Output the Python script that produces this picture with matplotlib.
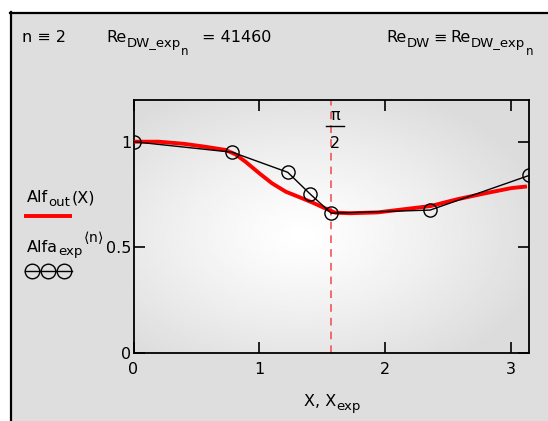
import numpy as np
import matplotlib
matplotlib.use("Agg")
import matplotlib.pyplot as plt
from matplotlib.patches import Rectangle
from matplotlib.lines import Line2D

plt.rcParams['font.family'] = ['DejaVu Sans']
plt.rcParams['mathtext.fontset'] = 'dejavusans'
plt.rcParams['font.size'] = 11.5

# experimental points (Alfa_exp, n = 2)
x_exp = [0.0, 0.785, 1.225, 1.405, 1.571, 2.356, 3.142]
y_exp = [1.0, 0.95, 0.855, 0.751, 0.661, 0.676, 0.84]

# fitted curve Alf_out(X)
x_fit = [0.0, 0.2, 0.4, 0.57, 0.73, 0.81, 0.89, 1.0, 1.1, 1.21, 1.31, 1.42,
         1.53, 1.6, 1.72, 1.94, 2.15, 2.36, 2.57, 2.79, 3.0, 3.11]
y_fit = [1.0, 1.0, 0.99, 0.976, 0.961, 0.94, 0.905, 0.850, 0.803, 0.763, 0.739,
         0.712, 0.682, 0.664, 0.661, 0.665, 0.68, 0.695, 0.727, 0.755, 0.78, 0.787]

x_ticks = [0, 1, 2, 3]
y_ticks = [0, 0.5, 1]
x_mark = np.pi / 2

W, H = 548, 421
fig = plt.figure(figsize=(W / 100, H / 100), dpi=100)
renderer = fig.canvas.get_renderer()

# background / frame in pixel coords
bg = fig.add_axes([0, 0, 1, 1])
bg.set_xlim(0, W)
bg.set_ylim(H, 0)
bg.axis('off')
bg.add_patch(Rectangle((10, 12), W, H, facecolor='#dedede', edgecolor='none'))
bg.plot([10.5, 10.5], [12, H], color='black', lw=1.6)
bg.plot([10, W], [12.5, 12.5], color='black', lw=1.6)


def chain(x, y, parts):
    # parts: (text, fontsize, baseline drop, gap before)
    for s, size, dy, gap in parts:
        x += gap
        t = bg.text(x, y + dy, s, fontsize=size, va='baseline', ha='left')
        x += t.get_window_extent(renderer).width
    return x


chain(22, 42.5, [('n ≡ 2', 11.5, 0, 0)])
chain(106, 42.5, [('Re', 11.5, 0, 0), ('DW_exp', 9.5, 4.5, 0),
                  ('n', 8.5, 12.5, 0.5), ('= 41460', 11.5, 0, 14)])
chain(386, 42.5, [('Re', 11.5, 0, 0), ('DW', 9.5, 4.5, 0), ('≡', 11.5, 0, 4),
                  ('Re', 11.5, 0, 4), ('DW_exp', 9.5, 4.5, 0),
                  ('n', 8.5, 12.5, 0.5)])

# y-axis "legend" labels
chain(27, 202.3, [('Alf', 11.5, 0, 0), ('out', 9.5, 3.5, 0), ('(X)', 11.5, 0, 2)])
bg.plot([24, 72], [216, 216], color='red', lw=2.8, solid_capstyle='butt')
chain(27, 252, [('Alfa', 11.5, 0, 0), ('exp', 9.5, 3.5, 0),
                (r'$\langle\mathrm{n}\rangle$', 10, -10, 1)])
bg.plot([24.5, 71.5], [271, 271], color='black', lw=1)
bg.plot([32.3, 48, 63.8], [271, 271, 271], ls='none', marker='o', ms=10.5,
        mfc='none', mec='black', mew=1)

# x-axis title
chain(304, 406.5, [('X, X', 11.5, 0, 0), ('exp', 9.5, 3.5, 0)])

ax = fig.add_axes([133.5 / W, 68.3 / H, 395.5 / W, 253.2 / H])
ax.set_xlim(0, np.pi)
ax.set_ylim(0, 1.2)

# radial gradient inside plot area
gx, gy = np.meshgrid(np.linspace(0, np.pi, 400), np.linspace(0, 1.2, 260))
d = np.sqrt(((gx - 1.33) / 2.0) ** 2 + ((gy - 0.56) / 0.75) ** 2)
shade = 1.0 - 0.14 * np.clip(d, 0, 1) ** 1.2
ax.imshow(shade, extent=[0, np.pi, 0, 1.2], origin='lower', aspect='auto',
          cmap='gray', vmin=0, vmax=1, zorder=0)

ax.axvline(x_mark, color='#f04848', lw=1.1, ls=(0, (5, 4)), zorder=1)
ax.plot(x_fit, y_fit, color='red', lw=2.8, zorder=3)
ax.plot(x_exp, y_exp, color='black', lw=1, marker='o', ms=9.5,
        mfc='none', mec='black', mew=1, zorder=4)

# pi/2 marker label (pixel coords, drawn on top of the plot area)
ax.text(334.8, 119.5, 'π', fontsize=11.5, ha='center', va='baseline',
        transform=bg.transData, zorder=5)
ax.add_line(Line2D([326, 343.6], [125.7, 125.7], color='black', lw=1,
                   transform=bg.transData, zorder=5))
ax.text(334.5, 147.5, '2', fontsize=11.5, ha='center', va='baseline',
        transform=bg.transData, zorder=5)

ax.set_xticks(x_ticks)
ax.set_yticks(y_ticks)
ax.set_xticklabels([str(t) for t in x_ticks])
ax.set_yticklabels(['0', '0.5', '1'])
ax.tick_params(direction='in', length=8, width=1.2, top=True, right=True,
               labelsize=11.5)
ax.tick_params(axis='x', pad=7)
ax.tick_params(axis='y', pad=1.5)
for s in ax.spines.values():
    s.set_linewidth(1.3)

fig.savefig('out.png', dpi=100)
